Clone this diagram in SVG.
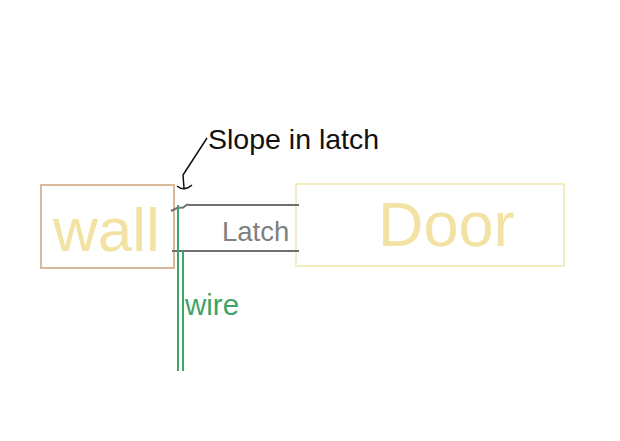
<svg xmlns="http://www.w3.org/2000/svg" width="620" height="441" viewBox="0 0 620 441">
<style>
text{font-family:"Liberation Sans",Arial,sans-serif}
.big{fill:#f2e2a4}
.latch{stroke:#6f6f6f;stroke-width:2;fill:none}
.wire{stroke:#3fa468;stroke-width:2;fill:none}
.ink{stroke:#111;stroke-width:1.500;fill:none}
</style>
<rect width="620" height="441" fill="#fff"/>
<g id="wall">
<rect x="41" y="185" width="133" height="83" fill="#fff" stroke="#d9b999" stroke-width="2"/>
<text class="big" x="53" y="251" font-size="62">wall</text>
</g>
<g id="door">
<rect x="296" y="184" width="268" height="82" fill="#fff" stroke="#f3ecc0" stroke-width="2"/>
<text class="big" x="378" y="246" font-size="63">Door</text>
</g>
<g id="connectors">
<path class="latch" d="M171 211L177 208L183 207.500L188 204M188 205H299"/>
<path class="latch" d="M172 251H299"/>
<path class="wire" d="M178 205V371M183 251V371"/>
<path class="ink" d="M207 138L183 175L184 188M177 186Q184 192 192 185"/>
</g>
<g id="labels">
<text x="208" y="149" font-size="28.500" fill="#111">Slope in latch</text>
<text x="222" y="241" font-size="27.500" fill="#808080">Latch</text>
<text x="185" y="315" font-size="29.500" fill="#3fa468">wire</text>
</g>
</svg>
